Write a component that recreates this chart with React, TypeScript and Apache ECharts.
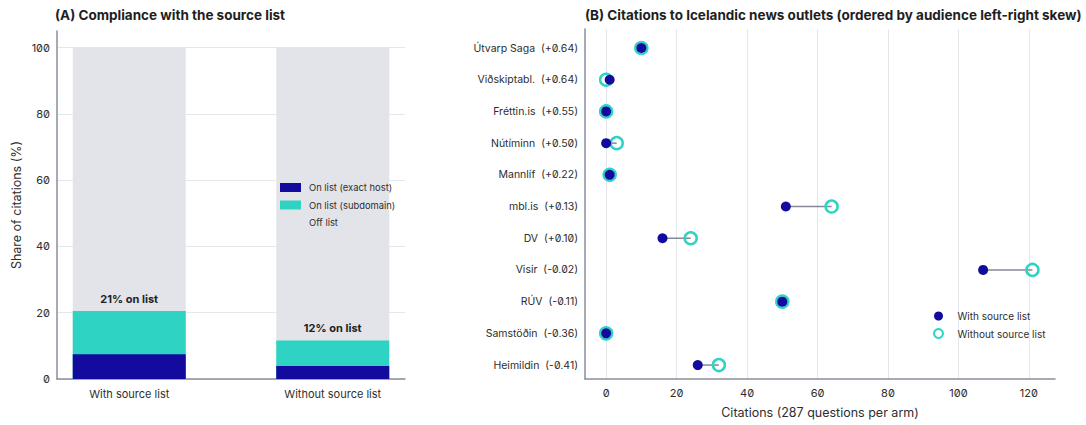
import React, { useEffect, useRef } from "react";
import * as echarts from "echarts";

const armCategories = ["With source list", "Without source list"];
const exactHost = [7.5, 3.9];
const subdomain = [13.0, 7.7];
const offList = [79.5, 88.4];
const onListLabels = ["21% on list", "12% on list"];

const outlets = [
  "Útvarp Saga  (+0.64)",
  "Viðskiptabl.  (+0.64)",
  "Fréttin.is  (+0.55)",
  "Nútíminn  (+0.50)",
  "Mannlíf  (+0.22)",
  "mbl.is  (+0.13)",
  "DV  (+0.10)",
  "Visir  (-0.02)",
  "RÚV  (-0.11)",
  "Samstöðin  (-0.36)",
  "Heimildin  (-0.41)",
];
const withList = [10, 1, 0, 0, 1, 51, 16, 107, 50, 0, 26];
const withoutList = [10, 0, 0, 3, 1, 64, 24, 121, 50, 0, 32];
const citationTicks = [0, 20, 40, 60, 80, 100, 120];
const shareTicks = [0, 20, 40, 60, 80, 100];

const NAVY = "#130b9e";
const CYAN = "#2ed3c3";
const GREY = "#e3e4e9";
const AXIS = "#8a8d9b";
const GRID = "#e6e7ed";
const TEXT = "#2e2e2e";
const FONT = "Inter, 'Noto Sans', sans-serif";

const CSS = `text, tspan { font-feature-settings: "zero" 1 !important; }`;

export default function App() {
  const ref = useRef<HTMLDivElement>(null);
  useEffect(() => {
    if (!ref.current) return;
    const chart = echarts.init(ref.current, undefined, { renderer: "svg" });
    const idx = outlets.map((_, i) => i);
    // cumulative tops of the stacked segments (drawn as overlapping bars)
    const onTotal = exactHost.map((v, i) => v + subdomain[i]);
    const allTotal = onTotal.map((v, i) => v + offList[i]);
    const titleStyle = { fontSize: 13.5, fontWeight: "bold", color: "#1e1e1e", fontFamily: FONT };
    chart.setOption({
      animation: false,
      textStyle: { fontFamily: FONT, color: TEXT },
      title: [
        { text: "(A) Compliance with the source list", left: 55, top: 8, padding: 0, textStyle: titleStyle },
        {
          text: "(B) Citations to Icelandic news outlets (ordered by audience left-right skew)",
          left: 585,
          top: 8,
          padding: 0,
          textStyle: titleStyle,
        },
      ],
      legend: [
        {
          data: [
            { name: "On list (exact host)" },
            { name: "On list (subdomain)" },
            { name: "Off list" },
          ],
          orient: "vertical",
          left: 280,
          top: 183,
          padding: 0,
          itemWidth: 21,
          itemHeight: 9,
          itemGap: 8.5,
          icon: "rect",
          textStyle: { fontSize: 9.4, color: TEXT, fontFamily: FONT, padding: [0, 0, 0, 3] },
        },
        {
          data: [{ name: "With source list" }, { name: "Without source list" }],
          orient: "vertical",
          left: 933,
          top: 311,
          padding: 0,
          itemWidth: 28,
          itemHeight: 9,
          itemGap: 7,
          textStyle: { fontSize: 10, color: TEXT, fontFamily: FONT },
        },
      ],
      grid: [
        { left: 57, right: 681, top: 31, bottom: 46 },
        { left: 585, right: 31, top: 29, bottom: 46 },
      ],
      xAxis: [
        {
          gridIndex: 0,
          type: "value",
          min: -0.355,
          max: 1.355,
          splitLine: { show: false },
          axisLine: { show: true, onZero: false, lineStyle: { color: AXIS, width: 1.5 } },
          axisTick: { show: false, customValues: [0, 1] },
          axisLabel: {
            customValues: [0, 1],
            formatter: (v: number) => armCategories[Math.round(v)] ?? "",
            fontSize: 11,
            color: TEXT,
            margin: 9,
            fontFamily: FONT,
          },
        },
        {
          gridIndex: 1,
          type: "value",
          min: -6,
          max: 127.4,
          splitNumber: 7,
          name: "Citations (287 questions per arm)",
          nameLocation: "middle",
          nameGap: 27,
          nameTextStyle: { fontSize: 12.5, color: TEXT, fontFamily: FONT },
          splitLine: { show: true, lineStyle: { color: GRID, width: 1 } },
          axisLine: { show: true, onZero: false, lineStyle: { color: AXIS, width: 1.5 } },
          axisTick: { show: false, customValues: citationTicks },
          axisLabel: {
            customValues: citationTicks,
            fontSize: 11,
            color: TEXT,
            margin: 8,
            fontFamily: FONT,
          },
        },
      ],
      yAxis: [
        {
          gridIndex: 0,
          type: "value",
          min: 0,
          max: 105,
          interval: 20,
          name: "Share of citations (%)",
          nameLocation: "middle",
          nameGap: 34,
          nameRotate: 90,
          nameTextStyle: { fontSize: 12.5, color: TEXT, fontFamily: FONT },
          splitLine: { show: true, lineStyle: { color: GRID, width: 1 } },
          axisLine: { show: true, onZero: false, lineStyle: { color: AXIS, width: 1.5 } },
          axisTick: { show: false, customValues: shareTicks },
          axisLabel: {
            customValues: shareTicks,
            fontSize: 11,
            color: TEXT,
            margin: 7,
            fontFamily: FONT,
          },
        },
        {
          gridIndex: 1,
          type: "value",
          inverse: true,
          min: -0.6,
          max: 10.44,
          splitLine: { show: false },
          axisLine: { show: true, onZero: false, lineStyle: { color: AXIS, width: 1.5 } },
          axisTick: { show: false, customValues: idx },
          axisLabel: {
            customValues: idx,
            formatter: (v: number) => outlets[Math.round(v)] ?? "",
            fontSize: 10.5,
            color: TEXT,
            margin: 7,
            fontFamily: FONT,
          },
        },
      ],
      series: [
        {
          name: "On list (exact host)",
          type: "bar",
          xAxisIndex: 0,
          yAxisIndex: 0,
          barWidth: 113,
          barGap: "-100%",
          z: 4,
          itemStyle: { color: NAVY },
          data: exactHost.map((v, i) => [i, v]),
        },
        {
          name: "On list (subdomain)",
          type: "bar",
          xAxisIndex: 0,
          yAxisIndex: 0,
          barWidth: 113,
          barGap: "-100%",
          z: 3,
          itemStyle: { color: CYAN },
          label: {
            show: true,
            position: "top",
            distance: 7,
            formatter: (p: any) => onListLabels[p.dataIndex],
            fontSize: 11,
            fontWeight: "bold",
            color: "#222",
            fontFamily: FONT,
          },
          data: onTotal.map((v, i) => [i, v]),
        },
        {
          name: "Off list",
          type: "bar",
          xAxisIndex: 0,
          yAxisIndex: 0,
          barWidth: 113,
          barGap: "-100%",
          z: 2,
          itemStyle: { color: GREY },
          data: allTotal.map((v, i) => [i, v]),
        },
        {
          name: "connector",
          type: "custom",
          xAxisIndex: 1,
          yAxisIndex: 1,
          silent: true,
          encode: { x: [1, 2], y: 0 },
          data: idx.map((i) => [i, withList[i], withoutList[i]]),
          renderItem: (params: any, api: any) => {
            const i = api.value(0);
            const a = api.coord([api.value(1), i]);
            const b = api.coord([api.value(2), i]);
            return {
              type: "line",
              shape: { x1: a[0], y1: a[1], x2: b[0], y2: b[1] },
              style: { stroke: "#858897", lineWidth: 1.5 },
            };
          },
          z: 1,
        },
        {
          name: "Without source list",
          type: "scatter",
          xAxisIndex: 1,
          yAxisIndex: 1,
          symbol: "circle",
          symbolSize: 12,
          itemStyle: { color: "rgba(255,255,255,0)", borderColor: CYAN, borderWidth: 2.5, opacity: 1 },
          data: idx.map((i) => [withoutList[i], i]),
          z: 2,
        },
        {
          name: "With source list",
          type: "scatter",
          xAxisIndex: 1,
          yAxisIndex: 1,
          symbol: "circle",
          symbolSize: 10,
          itemStyle: { color: NAVY, opacity: 1 },
          data: idx.map((i) => [withList[i], i]),
          z: 3,
        },
      ],
    });
    return () => chart.dispose();
  }, []);
  return (
    <>
      <style>{CSS}</style>
      <div
        ref={ref}
        style={{
          width: 1086,
          height: 425,
          position: "absolute",
          left: 0,
          top: 0,
          fontFeatureSettings: '"zero" 1',
        }}
      />
    </>
  );
}
